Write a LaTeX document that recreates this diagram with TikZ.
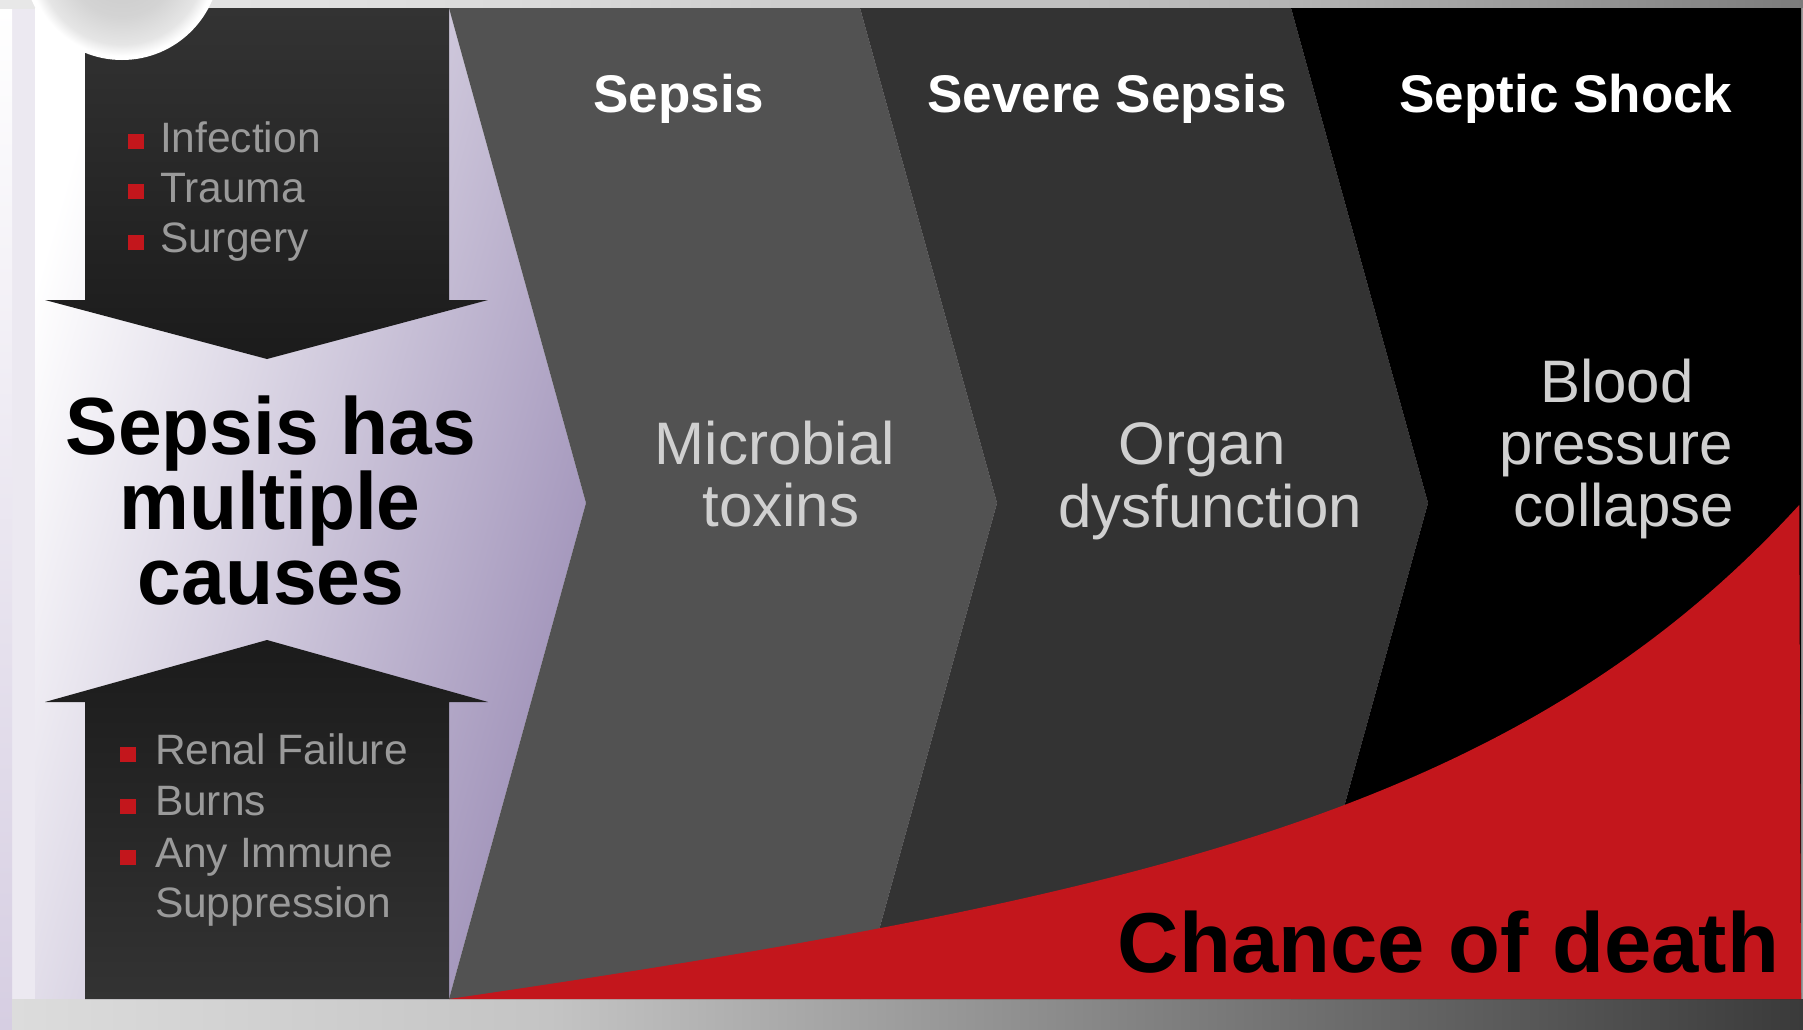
\documentclass[tikz,border=0pt]{standalone}
\usepackage{fontspec}
\setmainfont{Liberation Sans}
\newfontfamily\narrowfont[FakeStretch=0.97]{Liberation Sans}
\definecolor{lav}{HTML}{9D8FB7}
\definecolor{redc}{HTML}{C3161C}
\definecolor{chevA}{HTML}{525252}
\definecolor{chevB}{HTML}{333333}
\definecolor{boxlight}{HTML}{333333}
\definecolor{boxdark}{HTML}{1B1B1B}
\definecolor{bulltext}{HTML}{9A9A9A}
\definecolor{midtext}{HTML}{D0D0D0}
\definecolor{bgl}{HTML}{ECE9F1}
\definecolor{stripl}{HTML}{D6CEE2}
\definecolor{tsA}{HTML}{E8E8E8}
\definecolor{tsB}{HTML}{DADADA}
\definecolor{tsC}{HTML}{B4B4B4}
\definecolor{tsD}{HTML}{7C7C7C}
\definecolor{bsA}{HTML}{DCDCDC}
\definecolor{bsB}{HTML}{C4C4C4}
\definecolor{bsC}{HTML}{707070}
\definecolor{bsD}{HTML}{3A3A3A}
\pgfdeclarehorizontalshading{topstrip}{100bp}{color(0bp)=(tsA); color(25bp)=(tsA); color(40bp)=(tsB); color(61bp)=(tsC); color(75bp)=(tsD); color(100bp)=(tsD)}
\pgfdeclarehorizontalshading{botstrip}{100bp}{color(0bp)=(bsA); color(25bp)=(bsA); color(40bp)=(bsB); color(61bp)=(bsC); color(75bp)=(bsD); color(100bp)=(bsD)}
\pgfdeclareradialshading{rimshade}{\pgfpoint{0bp}{0bp}}{color(0bp)=(black!22); color(14bp)=(black!17); color(21bp)=(black!10); color(24bp)=(white); color(50bp)=(white)}
\begin{document}
\begin{tikzpicture}[x=1bp,y=-1bp,
  txt/.style={inner sep=0pt, outer sep=0pt},
  hdr/.style={txt, text=white, font=\fontsize{53bp}{60bp}\selectfont\bfseries},
  titletxt/.style={txt, text=black, font=\narrowfont\bfseries\fontsize{81bp}{75bp}\selectfont},
  blist/.style={txt, text=bulltext, font=\fontsize{42.5bp}{50bp}\selectfont},
  midt/.style={txt, text=midtext, font=\fontsize{60bp}{62bp}\selectfont},
  deathtxt/.style={txt, text=black, font=\fontsize{85bp}{90bp}\selectfont\bfseries},
  bullet/.style={fill=redc}
]
\useasboundingbox (0,0) rectangle (1803,1029);
% background and frame strips
\fill[bgl] (0,0) rectangle (1803,1029);
\shade[top color=white, bottom color=stripl] (0,8) rectangle (12,1029);
\shade[shading=topstrip] (0,0) rectangle (1803,8);
\shade[shading=botstrip] (12,999) rectangle (1803,1029);
\fill[black!40] (1801,8) rectangle (1803,999);
% lavender pentagon
\shade[top color=white, bottom color=lav, shading angle=74] (35,8) -- (449,8) -- (586,503) -- (449,999) -- (35,999) -- cycle;
% chevrons
\fill[chevA] (449,8) -- (860,8) -- (997,503) -- (860,999) -- (449,999) -- (586,503) -- cycle;
\fill[chevB] (860,8) -- (1291,8) -- (1428,503) -- (1291,999) -- (860,999) -- (997,503) -- cycle;
\fill[black] (1291,8) -- (1801,8) -- (1801,999) -- (1291,999) -- (1428,503) -- cycle;
% red death curve
\fill[redc] (449,999) -- plot[domain=0:1,samples=120,variable=\t] ({449+1352*\t},{999-496*(0.35*\t+0.65*(exp(4*\t)-1)/(exp(4)-1))}) -- (1801,999) -- cycle;
% down arrow
\shade[top color=boxlight, bottom color=boxdark] (85,8) -- (449,8) -- (449,300) -- (488,300) -- (267,359) -- (45,300) -- (85,300) -- cycle;
% up arrow
\shade[top color=boxdark, bottom color=boxlight] (267,640) -- (488,702) -- (449,702) -- (449,999) -- (85,999) -- (85,702) -- (45,702) -- cycle;
% corner circle
\shade[shading=rimshade] (122,-38) circle[radius=98];
% headers
\node[hdr, anchor=base] (h1) at (679,112) {Sepsis};
\node[hdr, anchor=base] (h2) at (1107,112) {Severe Sepsis};
\node[hdr, anchor=base] (h3) at (1566,112) {Septic Shock};
% title
\node[titletxt, anchor=base] (t1) at (271,454) {Sepsis has};
\node[titletxt, anchor=base] (t2) at (270,529) {multiple};
\node[titletxt, anchor=base] (t3) at (271,604) {causes};
% top list
\fill[bullet] (128,134) rectangle (143.5,149);
\fill[bullet] (128,184) rectangle (143.5,199);
\fill[bullet] (128,235) rectangle (143.5,250);
\node[blist, anchor=base west] (b1) at (160,152) {Infection};
\node[blist, anchor=base west] (b2) at (160,202) {Trauma};
\node[blist, anchor=base west] (b3) at (160,252) {Surgery};
% bottom list
\fill[bullet] (120,747) rectangle (135.5,762);
\fill[bullet] (120,799) rectangle (135.5,814);
\fill[bullet] (120,849.5) rectangle (135.5,864.5);
\node[blist, anchor=base west] (c1) at (155,764) {Renal Failure};
\node[blist, anchor=base west] (c2) at (155,815) {Burns};
\node[blist, anchor=base west] (c3) at (155,867) {Any Immune};
\node[blist, anchor=base west] (c4) at (155,917) {Suppression};
% middle texts
\node[midt, anchor=base] (m1) at (775,464) {Microbial};
\node[midt, anchor=base] (m2) at (781,526) {toxins};
\node[midt, anchor=base] (o1) at (1202,464) {Organ};
\node[midt, anchor=base] (o2) at (1210,527) {dysfunction};
\node[midt, anchor=base] (p1) at (1617,402) {Blood};
\node[midt, anchor=base] (p2) at (1616,464) {pressure};
\node[midt, anchor=base] (p3) at (1624,526) {collapse};
% chance of death
\node[deathtxt, anchor=base east] (d1) at (1779,972) {Chance of death};
\end{tikzpicture}
\end{document}
